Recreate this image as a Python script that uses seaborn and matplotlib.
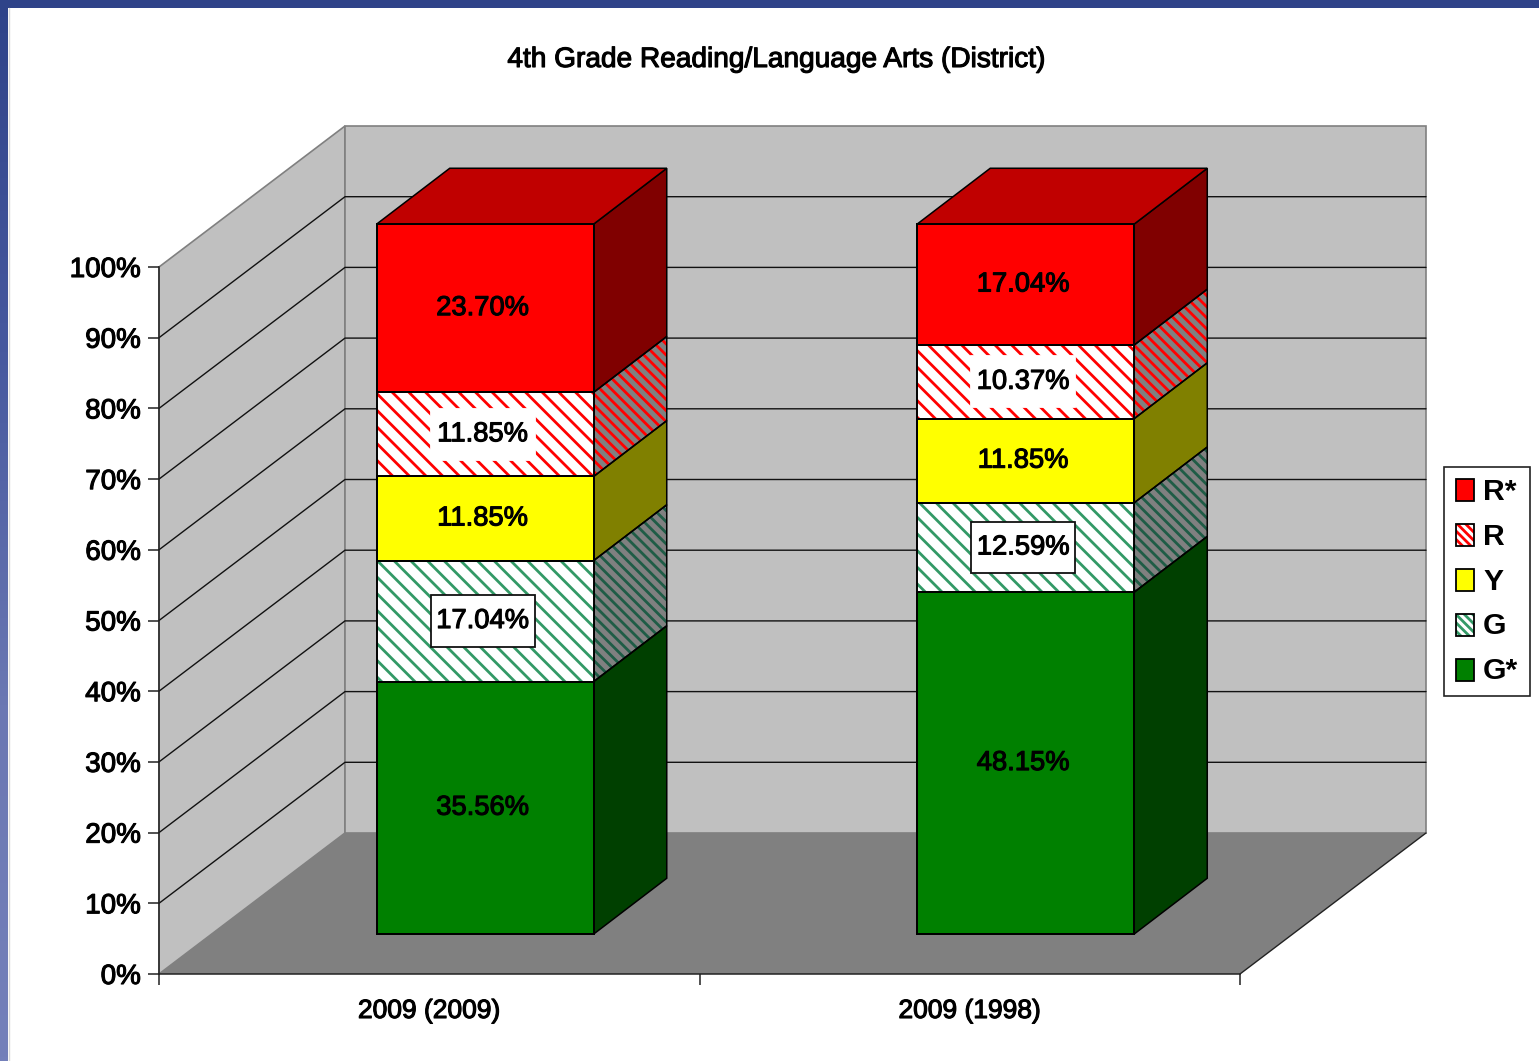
import numpy as np
import matplotlib
matplotlib.use("Agg")
import matplotlib.pyplot as plt
import matplotlib.patheffects as pe
from matplotlib.colors import LinearSegmentedColormap
from matplotlib.legend_handler import HandlerTuple
from matplotlib.patches import Patch, Polygon, Rectangle
from matplotlib.transforms import Affine2D
import seaborn as sns

years = ["2009 (2009)", "2009 (1998)"]
g_star = [35.56, 48.15]
g = [17.04, 12.59]
y = [11.85, 11.85]
r = [11.85, 10.37]
r_star = [23.70, 17.04]
y_ticks = [0, 10, 20, 30, 40, 50, 60, 70, 80, 90, 100]
y_tick_labels = ["0%", "10%", "20%", "30%", "40%", "50%", "60%", "70%", "80%", "90%", "100%"]

# name, values, face, hatch colour, side colour, side hatch colour, boxed label
series = [
    ("G*", g_star, "#008000", None, "#004000", None, False),
    ("G", g, "#ffffff", "#339966", "#808080", "#1f5c46", True),
    ("Y", y, "#ffff00", None, "#808000", None, False),
    ("R", r, "#ffffff", "#ff0000", "#808080", "#ff0000", True),
    ("R*", r_star, "#ff0000", None, "#800000", None, False),
]

W, H = 1539, 1061
sns.set_theme(style="white")
plt.rcParams["font.family"] = ["Liberation Sans", "DejaVu Sans"]
plt.rcParams["hatch.linewidth"] = 2.0
heavy = [pe.withStroke(linewidth=0.8, foreground="black")]

fig = plt.figure(figsize=(W / 100, H / 100), dpi=100, facecolor="white")
ax = fig.add_axes([159 / W, 1 - 974 / H, 1081 / W, 707 / H])
ax.patch.set_visible(False)

# blue slide background showing along the top and left edge
blues = LinearSegmentedColormap.from_list("slide", ["#2f4389", "#47599f", "#6b78b3", "#7480ba"])
left = fig.add_axes([0, 0, 8 / W, 1])
left.imshow(np.linspace(0, 1, 256).reshape(-1, 1), cmap=blues, aspect="auto")
left.axis("off")
top = fig.add_axes([0, 1 - 8 / H, 1, 8 / H])
top.set_facecolor("#2f4389")
top.set_xticks([])
top.set_yticks([])
sns.despine(ax=top, left=True, bottom=True)
fig.add_artist(plt.Line2D([8.5 / W, 8.5 / W], [0, 1 - 8 / H], color="#d8d8d8", lw=1))

# wall depth and bar placement, in data units
x_px = 1081 / 2
y_px = 7.07
wall_dx, wall_dy = 186 / x_px, 141 / y_px
bar_dx, bar_dy = 73 / x_px, 55.5 / y_px
bar_w = 217 / x_px
# pixels: front face of the bars sits behind the axis and is drawn a little taller
shift = Affine2D().translate(0, -87).scale(1, 710 / 707).translate(56, 127)

x0, x1 = -0.5, 1.5
ax.add_patch(Polygon([(x0, 0), (x0 + wall_dx, wall_dy), (x0 + wall_dx, 100 + wall_dy), (x0, 100)],
                     fc="#c0c0c0", ec="#808080", lw=1.2, zorder=0, clip_on=False))
ax.add_patch(Polygon([(x0 + wall_dx, wall_dy), (x1 + wall_dx, wall_dy), (x1 + wall_dx, 100 + wall_dy),
                      (x0 + wall_dx, 100 + wall_dy)],
                     fc="#c0c0c0", ec="#808080", lw=1.2, zorder=0, clip_on=False))
ax.add_patch(Polygon([(x0, 0), (x1, 0), (x1 + wall_dx, wall_dy), (x0 + wall_dx, wall_dy)],
                     fc="#808080", ec="none", zorder=0.5, clip_on=False))
ax.plot([x1, x1 + wall_dx], [0, wall_dy], color="#222222", lw=1, zorder=0.6, clip_on=False)
for t in y_ticks[1:-1]:
    ax.plot([x0, x0 + wall_dx, x1 + wall_dx], [t, t + wall_dy, t + wall_dy],
            color="#111111", lw=1, zorder=0.6, clip_on=False)

bottom = np.zeros(len(years))
for name, vals, face, hatch_col, side, side_hatch, boxed in series:
    vals = np.array(vals)
    n_before = len(ax.patches)
    sns.barplot(x=years, y=vals, bottom=bottom, color=face, saturation=1, width=bar_w,
                errorbar=None, ax=ax, hatch="\\\\" if hatch_col else None,
                edgecolor=hatch_col if hatch_col else "black", linewidth=0 if hatch_col else 1.4)
    moved = ax.transData + shift
    for i, bar in enumerate(ax.patches[n_before:]):
        bar.set_transform(moved)
        bar.set_clip_on(False)
        bar.set_zorder(3)
        xl = bar.get_x()
        xr = xl + bar.get_width()
        lo, hi = bottom[i], bottom[i] + vals[i]
        ax.add_patch(Rectangle((xl, lo), xr - xl, vals[i], fill=False, ec="black", lw=1.4, zorder=4,
                               transform=moved, clip_on=False))
        # side face
        pts = [(xr, lo), (xr + bar_dx, lo + bar_dy), (xr + bar_dx, hi + bar_dy), (xr, hi)]
        ax.add_patch(Polygon(pts, fc=side, ec=side_hatch if side_hatch else "none",
                             hatch="\\\\\\" if side_hatch else None, lw=0, zorder=2,
                             transform=moved, clip_on=False))
        ax.add_patch(Polygon(pts, fill=False, ec="black", lw=1.1, zorder=2.5,
                             transform=moved, clip_on=False))
        # top face on the last segment
        if name == "R*":
            ax.add_patch(Polygon([(xl, hi), (xr, hi), (xr + bar_dx, hi + bar_dy), (xl + bar_dx, hi + bar_dy)],
                                 fc="#c00000", ec="black", lw=1.1, zorder=2.5,
                                 transform=moved, clip_on=False))
        # value label
        cx = (xl + xr) / 2 - 2.5 / x_px
        cy = lo + vals[i] / 2
        if boxed:
            bw, bh = 104 / x_px, 51 / y_px
            ax.add_patch(Rectangle((cx - bw / 2, cy - bh / 2), bw, bh, fc="white",
                                   ec="#111111" if name == "G" else "white", lw=1.3, zorder=5,
                                   transform=moved, clip_on=False))
        ax.text(cx, cy, f"{vals[i]:.2f}%", ha="center", va="center", fontsize=19.7, color="black",
                zorder=6, transform=moved, clip_on=False, path_effects=heavy)
    bottom = bottom + vals

ax.set_xlim(x0, x1)
ax.set_ylim(0, 100)
ax.set_xticks([x0, 0.5, x1])
ax.set_xticklabels([])
ax.set_xticks([0, 1], minor=True)
ax.set_xticklabels(years, minor=True, fontsize=19, color="black", path_effects=heavy)
ax.set_yticks(y_ticks)
ax.set_yticklabels(y_tick_labels, fontsize=20, color="black", path_effects=heavy)
ax.tick_params(axis="both", which="major", direction="out", length=8, width=1.1, color="#222222",
               left=True, bottom=True, pad=5)
ax.tick_params(axis="x", which="minor", length=0, pad=18, bottom=False)
for s in ["top", "right"]:
    ax.spines[s].set_visible(False)
for s in ["left", "bottom"]:
    ax.spines[s].set_visible(True)
    ax.spines[s].set_color("#222222")
    ax.spines[s].set_linewidth(1.1)
    ax.spines[s].set_zorder(1)
ax.set_xlabel("")
ax.set_ylabel("")

fig.text(776 / W, 1 - 60 / H, "4th Grade Reading/Language Arts (District)", ha="center", va="center",
         fontsize=20.2, color="black", path_effects=heavy)

# legend, top entry first
handles = []
labels = []
for name, vals, face, hatch_col, side, side_hatch, boxed in series[::-1]:
    outline = Patch(fill=False, ec="black", lw=1.3)
    if hatch_col:
        handles.append((Patch(fc=face, ec=hatch_col, hatch="\\\\\\\\", lw=0), outline))
    else:
        handles.append((Patch(fc=face, ec="none"), outline))
    labels.append(name)
leg = fig.legend(handles, labels, handler_map={tuple: HandlerTuple(ndivide=1, pad=0, ypad=-0.08)},
                 loc="center", bbox_to_anchor=(1487 / W, 1 - 581.5 / H), frameon=True, fancybox=False,
                 framealpha=1, edgecolor="#222222", facecolor="white", borderpad=0.37, labelspacing=0.56,
                 handlelength=0.62, handleheight=0.62, handletextpad=0.3, borderaxespad=0,
                 labelcolor="black", prop={"size": 21.7, "weight": "bold"})
leg.get_frame().set_linewidth(1.2)

fig.savefig("out.png", dpi=100)
